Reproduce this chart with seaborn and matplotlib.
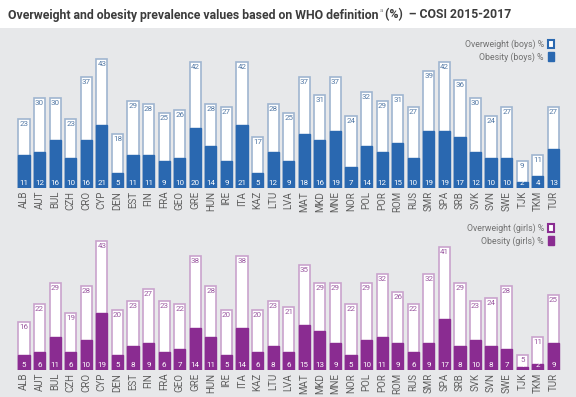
import matplotlib
matplotlib.use("Agg")
import matplotlib.pyplot as plt
import seaborn as sns
import pandas as pd
from matplotlib.patches import Patch, Rectangle

# country codes, left to right
countries = ["ALB", "AUT", "BUL", "CZH", "CRO", "CYP", "DEN", "EST", "FIN", "FRA",
             "GEO", "GRE", "HUN", "IRE", "ITA", "KAZ", "LTU", "LVA", "MAT", "MKD",
             "MNE", "NOR", "POL", "POR", "ROM", "RUS", "SMR", "SPA", "SRB", "SVK",
             "SVN", "SWE", "TJK", "TKM", "TUR"]

# boys (%)
overweight_boys = [23, 30, 30, 23, 37, 43, 18, 29, 28, 25, 26, 42, 28, 27, 42, 17, 28, 25,
                   37, 31, 37, 24, 32, 29, 31, 27, 39, 42, 36, 30, 24, 27, 9, 11, 27]
obesity_boys = [11, 12, 16, 10, 16, 21, 5, 11, 11, 9, 10, 20, 14, 9, 21, 5, 12, 9,
                18, 16, 19, 7, 14, 12, 15, 10, 19, 19, 17, 12, 10, 10, 2, 4, 13]

# girls (%)
overweight_girls = [16, 22, 29, 19, 28, 43, 20, 23, 27, 23, 22, 38, 28, 20, 38, 20, 23, 21,
                    35, 29, 29, 22, 29, 32, 26, 22, 32, 41, 29, 23, 24, 28, 5, 11, 25]
obesity_girls = [5, 6, 11, 6, 10, 19, 5, 8, 9, 6, 7, 14, 11, 5, 14, 6, 8, 6,
                 15, 13, 9, 5, 10, 11, 9, 6, 9, 17, 8, 10, 8, 7, 1, 2, 9]

BG = "#e7e8ea"
W, H = 576, 397

plt.rcParams["font.family"] = ["Roboto", "DejaVu Sans"]

fig = plt.figure(figsize=(5.76, 3.97), dpi=100, facecolor=BG)
fig.patches.append(Rectangle((0, 1 - 28 / H), 1, 28 / H, transform=fig.transFigure,
                             facecolor="white", edgecolor="none", zorder=0))

# title in three pieces so the superscript "a" sits after "definition"
renderer = fig.canvas.get_renderer()
t1 = fig.text(8 / W, 1 - 15 / H, "Overweight and obesity prevalence values based on WHO definition",
              ha="left", va="center", fontsize=8.8, fontweight="bold", color="#3c3c3c")
x1 = t1.get_window_extent(renderer).x1
t2 = fig.text((x1 + 1) / W, 1 - 11 / H, "a", ha="left", va="center", fontsize=4.5,
              color="#8a8a8a")
x2 = t2.get_window_extent(renderer).x1
fig.text((x2 + 2) / W, 1 - 15 / H, "(%)  \u2013 COSI 2015-2017",
         ha="left", va="center", fontsize=8.8, fontweight="bold", color="#3c3c3c")


def panel(top, base, ow, ob, dark, edge, lab_col, who, leg_y):
    scale = 3.01  # px per percent
    ax = fig.add_axes([0, (H - base) / H, 1, (base - top) / H])
    ax.set_facecolor("none")
    df = pd.DataFrame({"country": countries, "ow": ow, "ob": ob})
    sns.barplot(data=df, x="country", y="ow", color="white", edgecolor=edge,
                linewidth=1.2, width=0.72, saturation=1, errorbar=None, ax=ax)
    sns.barplot(data=df, x="country", y="ob", color=dark, edgecolor=dark,
                linewidth=1.0, width=0.72, saturation=1, errorbar=None, ax=ax)
    for i, (a, b) in enumerate(zip(ow, ob)):
        ax.text(i, a - 1.8, str(a), ha="center", va="center", fontsize=5.8, color=lab_col)
        ax.text(i, 1.5, str(b), ha="center", va="center", fontsize=5.8, color="white")
    pitch = 15.57
    ax.set_xlim(-24 / pitch, (W - 24) / pitch)
    ax.set_ylim(0, (base - top) / scale)
    ax.set_xlabel("")
    ax.set_ylabel("")
    ax.set_yticks([])
    ax.tick_params(axis="x", length=0, pad=2, labelsize=7, labelcolor="#5f5f5f",
                   labelrotation=90)
    for s in ax.spines.values():
        s.set_visible(False)
    handles = [Patch(facecolor="white", edgecolor=dark, linewidth=1.5,
                     label=f"Overweight ({who}) %"),
               Patch(facecolor=dark, edgecolor=dark, label=f"Obesity ({who}) %")]
    ax.legend(handles=handles, markerfirst=False, frameon=False, loc="upper right",
              bbox_to_anchor=(557 / W, 1 - (leg_y - top) / (base - top)), borderaxespad=0,
              handlelength=0.6, handleheight=1.2, handletextpad=0.5, labelspacing=0.35,
              fontsize=6.3, labelcolor="#707070")
    return ax


panel(30, 188, overweight_boys, obesity_boys, "#2a68b0", "#9fb5d0", "#557aa6", "boys", 36)
panel(205, 370, overweight_girls, obesity_girls, "#8a2c91", "#c9a3cd", "#9b5aa1", "girls", 220)

fig.savefig("out.png", dpi=100, facecolor=BG)
